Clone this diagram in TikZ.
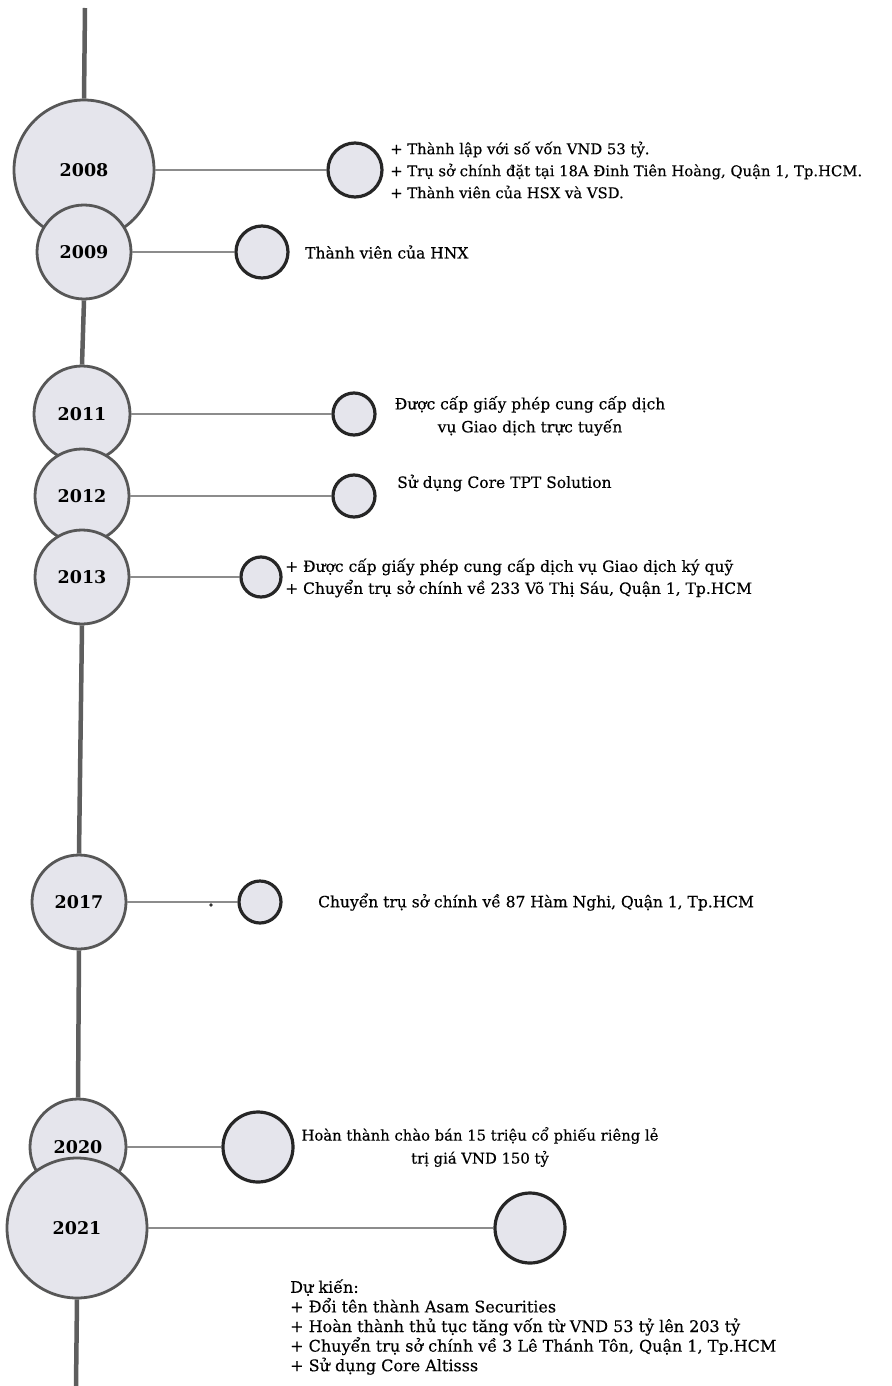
\documentclass[tikz,border=0pt]{standalone}
\usepackage{fontspec}
\setmainfont{DejaVu Serif}
\newfontfamily\bodyfont{DejaVu Serif}[FakeBold=0.35]
\definecolor{cfill}{HTML}{E5E5EC}
\definecolor{cedge}{HTML}{575757}
\definecolor{dedge}{HTML}{262626}
\definecolor{linkc}{HTML}{8C8C8C}
\definecolor{spinec}{HTML}{5E5E5E}
\tikzset{
  year/.style={circle, draw=cedge, line width=2.8pt, fill=cfill, inner sep=0pt,
    font=\bfseries\fontsize{17.5}{20}\selectfont},
  dot/.style={circle, draw=dedge, line width=3.2pt, fill=cfill, inner sep=0pt},
  link/.style={draw=linkc, line width=2pt},
  spine/.style={draw=spinec, line width=4.5pt},
  txt/.style={font=\bodyfont\fontsize{15.5}{22}\selectfont, inner sep=0pt, anchor=west, align=left, text=black},
  ctxt/.style={font=\bodyfont\fontsize{15.5}{23}\selectfont, inner sep=0pt, align=center, text=black},
}
\begin{document}
\begin{tikzpicture}[x=1pt,y=-1pt]
\useasboundingbox (0,0) rectangle (891,1386);
\coordinate (top) at (85,8);
\coordinate (bot) at (76,1386);
% year circles
\node[year, minimum size=140] (y08) at (84,170) {2008};
\node[year, minimum size=94]  (y09) at (84,252) {2009};
\node[year, minimum size=96]  (y11) at (82,414) {2011};
\node[year, minimum size=94]  (y12) at (82,496) {2012};
\node[year, minimum size=94]  (y13) at (82,577) {2013};
\node[year, minimum size=94]  (y17) at (79,902) {2017};
\node[year, minimum size=96]  (y20) at (78,1147) {2020};
\node[year, minimum size=140] (y21) at (77,1228) {2021};
% spine
\draw[spine] (top) -- (y08.north);
\draw[spine] (y09.south) -- (y11.north);
\draw[spine] (y13.south) -- (y17.north);
\draw[spine] (y17.south) -- (y20.north);
\draw[spine] (y21.south) -- (bot);
% event dots
\node[dot, minimum size=54] (d08) at (355,170) {};
\node[dot, minimum size=52] (d09) at (262,252) {};
\node[dot, minimum size=42] (d11) at (354,414) {};
\node[dot, minimum size=42] (d12) at (354,496) {};
\node[dot, minimum size=40] (d13) at (261,577) {};
\node[dot, minimum size=42] (d17) at (260,902) {};
\node[dot, minimum size=70] (d20) at (258,1147) {};
\node[dot, minimum size=70] (d21) at (530,1228) {};
% connectors
\draw[link] (y08) -- (d08);
\draw[link] (y09) -- (d09);
\draw[link] (y11) -- (d11);
\draw[link] (y12) -- (d12);
\draw[link] (y13) -- (d13);
\draw[link] (y17) -- (d17);
\draw[link] (y20) -- (d20);
\draw[link] (y21) -- (d21);
\fill[black!80] (211,905) circle (1.8);
% texts
\node[txt, font=\bodyfont\fontsize{14.8}{22}\selectfont] (t08) at (390,170) {+ Thành lập với số vốn VND 53 tỷ.\\+ Trụ sở chính đặt tại 18A Đinh Tiên Hoàng, Quận 1, Tp.HCM.\\+ Thành viên của HSX và VSD.};
\node[txt] (t09) at (305,252) {Thành viên của HNX};
\node[ctxt] (t11) at (530,416) {Được cấp giấy phép cung cấp dịch\\vụ Giao dịch trực tuyến};
\node[txt] (t12) at (397,483) {Sử dụng Core TPT Solution};
\node[txt] (t13) at (285,578) {+ Được cấp giấy phép cung cấp dịch vụ Giao dịch ký quỹ\\+ Chuyển trụ sở chính về 233 Võ Thị Sáu, Quận 1, Tp.HCM};
\node[txt] (t17) at (318,902) {Chuyển trụ sở chính về 87 Hàm Nghi, Quận 1, Tp.HCM};
\node[ctxt, font=\bodyfont\fontsize{14.8}{23}\selectfont] (t20) at (480,1147) {Hoàn thành chào bán 15 triệu cổ phiếu riêng lẻ\\trị giá VND 150 tỷ};
\node[txt, font=\bodyfont\fontsize{16}{19.6}\selectfont] (t21) at (290,1327) {Dự kiến:\\+ Đổi tên thành Asam Securities\\+ Hoàn thành thủ tục tăng vốn từ VND 53 tỷ lên 203 tỷ\\+ Chuyển trụ sở chính về 3 Lê Thánh Tôn, Quận 1, Tp.HCM\\+ Sử dụng Core Altisss};
\end{tikzpicture}
\end{document}
